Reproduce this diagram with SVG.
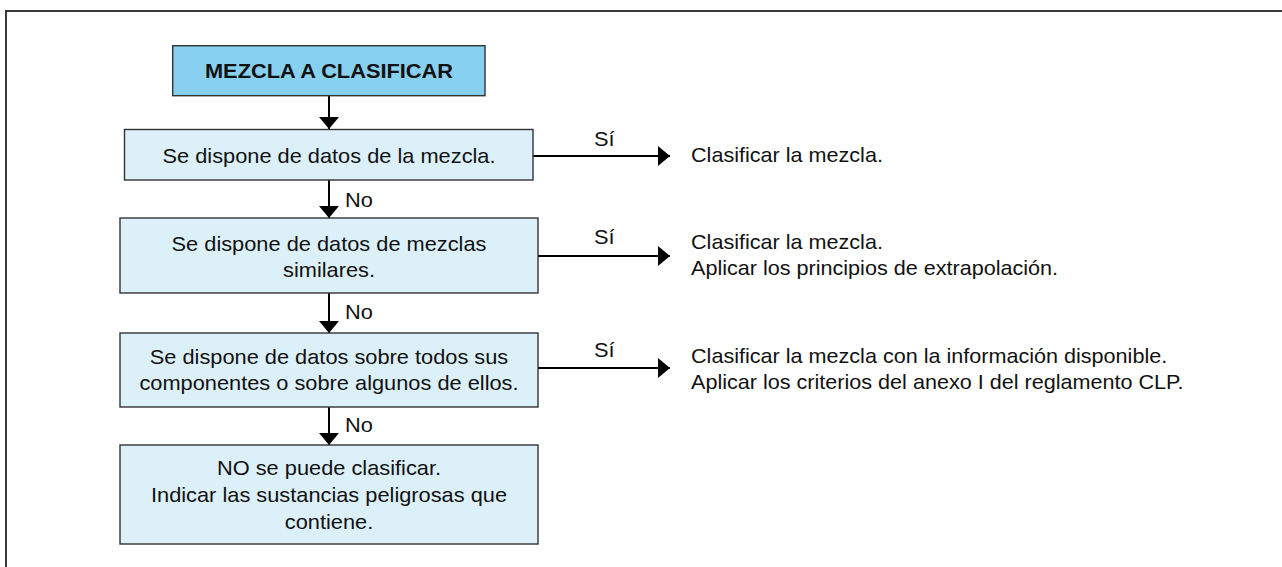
<svg xmlns="http://www.w3.org/2000/svg" width="1282" height="567" viewBox="0 0 1282 567">
<style>
.bg{fill:#ffffff}
.frame{fill:none;stroke:#3a3a3a;stroke-width:2}
.title{fill:#88d0f0;stroke:#333333;stroke-width:1.4}
.box{fill:#dcf0fa;stroke:#333333;stroke-width:1.4}
.t{font-family:"Liberation Sans",Arial,Helvetica,sans-serif;font-size:20px;fill:#111111}
.tb{font-family:"Liberation Sans",Arial,Helvetica,sans-serif;font-size:20px;font-weight:bold;fill:#111111}
.c{text-anchor:middle}
.edge{fill:none;stroke:#000000;stroke-width:2}
</style>
<defs>
<marker id="ah" markerUnits="userSpaceOnUse" markerWidth="13" markerHeight="20" refX="12" refY="10" orient="auto">
<path d="M0,0 L12,10 L0,20 Z" fill="#000000"/>
</marker>
</defs>
<rect class="bg" x="0" y="0" width="1282" height="567"/>
<path class="frame" d="M6,567 V11 H1282"/>

<g id="connectors">
<line class="edge" x1="329" y1="96" x2="329" y2="129" marker-end="url(#ah)"/>
<line class="edge" x1="329" y1="180" x2="329" y2="218" marker-end="url(#ah)"/>
<line class="edge" x1="329" y1="293" x2="329" y2="333" marker-end="url(#ah)"/>
<line class="edge" x1="329" y1="407" x2="329" y2="445" marker-end="url(#ah)"/>
<line class="edge" x1="533" y1="156" x2="670" y2="156" marker-end="url(#ah)"/>
<line class="edge" x1="538" y1="256" x2="670" y2="256" marker-end="url(#ah)"/>
<line class="edge" x1="538" y1="368" x2="670" y2="368" marker-end="url(#ah)"/>
<text class="t" transform="translate(345,207) scale(1.09,1)">No</text>
<text class="t" transform="translate(345,319) scale(1.09,1)">No</text>
<text class="t" transform="translate(345,432) scale(1.09,1)">No</text>
<text class="t" transform="translate(594,146) scale(1.09,1)">Sí</text>
<text class="t" transform="translate(594,244) scale(1.09,1)">Sí</text>
<text class="t" transform="translate(594,357) scale(1.09,1)">Sí</text>
</g>

<g id="n-title">
<rect class="title" x="172.7" y="45.7" width="312.3" height="50"/>
<text class="tb c" transform="translate(329,78) scale(1.09,1)">MEZCLA A CLASIFICAR</text>
</g>

<g id="n-q1">
<rect class="box" x="124.5" y="129.5" width="408.5" height="50.5"/>
<text class="t c" transform="translate(329,163) scale(1.09,1)">Se dispone de datos de la mezcla.</text>
</g>

<g id="n-q2">
<rect class="box" x="120" y="218" width="418" height="75"/>
<text class="t c" transform="translate(329,251) scale(1.09,1)"><tspan x="0" y="0">Se dispone de datos de mezclas</tspan><tspan x="0" y="26">similares.</tspan></text>
</g>

<g id="n-q3">
<rect class="box" x="120" y="333" width="418" height="74"/>
<text class="t c" transform="translate(329,364) scale(1.09,1)"><tspan x="0" y="0">Se dispone de datos sobre todos sus</tspan><tspan x="0" y="26">componentes o sobre algunos de ellos.</tspan></text>
</g>

<g id="n-q4">
<rect class="box" x="120" y="445" width="418" height="99"/>
<text class="t c" transform="translate(329,475) scale(1.09,1)"><tspan x="0" y="0">NO se puede clasificar.</tspan><tspan x="0" y="27">Indicar las sustancias peligrosas que</tspan><tspan x="0" y="54">contiene.</tspan></text>
</g>

<g id="n-r1">
<text class="t" transform="translate(691,162) scale(1.08,1)">Clasificar la mezcla.</text>
</g>

<g id="n-r2">
<text class="t" transform="translate(691,249) scale(1.08,1)"><tspan x="0" y="0">Clasificar la mezcla.</tspan><tspan x="0" y="26">Aplicar los principios de extrapolación.</tspan></text>
</g>

<g id="n-r3">
<text class="t" transform="translate(691,363) scale(1.08,1)"><tspan x="0" y="0">Clasificar la mezcla con la información disponible.</tspan><tspan x="0" y="26">Aplicar los criterios del anexo I del reglamento CLP.</tspan></text>
</g>
</svg>
